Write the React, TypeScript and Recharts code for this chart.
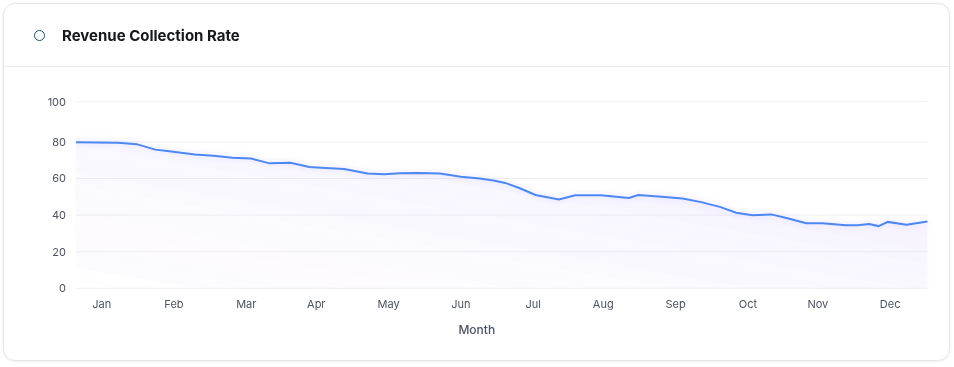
import { Area, AreaChart, CartesianGrid, XAxis, YAxis } from 'recharts'

// day of year for each reading
const days = [
  0, 18, 26, 34, 40, 51, 59, 67, 75, 83, 92, 100, 107, 115, 125, 132, 139, 147, 156, 165, 173, 179, 184, 190,
  197, 207, 214, 225, 237, 241, 251, 260, 268, 276, 283, 290, 298, 305, 313, 320, 330, 335, 340, 344, 348, 356,
  365,
]
// collection rate (%)
const rates = [
  79.8, 79.5, 78.8, 75.8, 74.9, 73.1, 72.5, 71.3, 71.0, 68.3, 68.6, 66.3, 65.8, 65.2, 62.7, 62.3, 62.9, 63.0,
  62.7, 61.0, 60.0, 58.9, 57.6, 54.8, 51.0, 48.5, 50.8, 50.9, 49.4, 51.0, 50.1, 49.1, 47.1, 44.5, 41.3, 39.9,
  40.4, 38.3, 35.6, 35.6, 34.4, 34.5, 35.1, 34.0, 36.3, 34.8, 36.5,
]
const monthTicks = [11, 42, 73, 103, 134, 165, 196, 226, 257, 288, 318, 349]
const monthLabels = ['Jan', 'Feb', 'Mar', 'Apr', 'May', 'Jun', 'Jul', 'Aug', 'Sep', 'Oct', 'Nov', 'Dec']
const rateTicks = [0, 20, 40, 60, 80, 102]

const data = days.map((d, i) => ({ day: d, rate: rates[i] }))

const font = 'Inter, "Noto Sans", sans-serif'

export default function App() {
  return (
    <div style={{ position: 'fixed', left: 0, top: 0, width: 954, height: 367, fontFamily: font }}>
      <div
        style={{
          position: 'absolute',
          left: 3,
          top: 3,
          width: 947,
          height: 358,
          boxSizing: 'border-box',
          border: '1px solid #e4e5e9',
          borderRadius: 12,
          background: '#fff',
          boxShadow: '0 1px 3px rgba(0,0,0,0.06)',
        }}
      >
        <div
          style={{
            height: 62,
            borderBottom: '1px solid #e9eaee',
            display: 'flex',
            alignItems: 'center',
            paddingLeft: 30,
          }}
        >
          <span
            style={{
              width: 9,
              height: 9,
              borderRadius: '50%',
              border: '1.5px solid #1d4f73',
              marginRight: 17,
            }}
          />
          <span style={{ fontSize: 15, fontWeight: 700, color: '#16181d' }}>Revenue Collection Rate</span>
        </div>
      </div>
      <div style={{ position: 'absolute', left: 0, top: 80 }}>
        <AreaChart width={954} height={270} data={data} margin={{ top: 21.7, right: 26.5, left: 0, bottom: 11.7 }}>
          <defs>
            <linearGradient id="rateFill" x1="1" y1="0" x2="0" y2="1">
              <stop offset="0%" stopColor="#8b6cf0" stopOpacity={0.14} />
              <stop offset="100%" stopColor="#8b6cf0" stopOpacity={0} />
            </linearGradient>
            <filter id="glow" x="-5%" y="-50%" width="110%" height="200%">
              <feDropShadow dx="0" dy="0" stdDeviation="3" floodColor="#a78bfa" floodOpacity="0.35" />
            </filter>
          </defs>
          <CartesianGrid vertical={false} stroke="#f0f0f4" />
          <XAxis
            dataKey="day"
            type="number"
            domain={[0, 365]}
            ticks={monthTicks}
            interval={0}
            tickFormatter={(v) => monthLabels[monthTicks.indexOf(v)]}
            axisLine={false}
            tickLine={false}
            tickMargin={6}
            height={50}
            tick={{ fill: '#4b5260', fontSize: 11 }}
            label={{
              value: 'Month',
              position: 'insideBottom',
              offset: 4,
              dx: -25,
              style: { fill: '#4b5260', fontSize: 12, fontWeight: 500 },
            }}
          />
          <YAxis
            domain={[0, 102]}
            ticks={rateTicks}
            interval={0}
            tickFormatter={(v) => String(Math.round(v / 10) * 10)}
            axisLine={false}
            tickLine={false}
            tickMargin={4}
            width={76}
            tick={{ fill: '#4b5260', fontSize: 11 }}
          />
          <Area
            type="linear"
            dataKey="rate"
            stroke="#4a88f5"
            strokeWidth={2}
            fill="url(#rateFill)"
            filter="url(#glow)"
            dot={false}
            activeDot={false}
            isAnimationActive={false}
          />
        </AreaChart>
      </div>
    </div>
  )
}
